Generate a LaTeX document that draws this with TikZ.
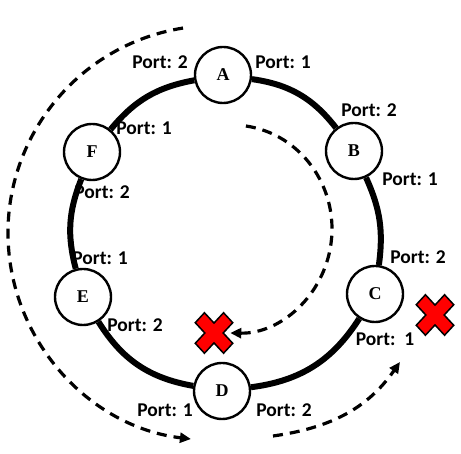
\documentclass[tikz,border=0pt]{standalone}
\usepackage{fontspec}
\newfontfamily\portfont{Carlito}
\newfontfamily\nodefont{Liberation Serif}
\usetikzlibrary{arrows.meta}
\begin{document}
\begin{tikzpicture}[x=1pt,y=1pt,
  station/.style={circle, draw=black, line width=2.4pt, fill=white,
    minimum size=56pt, inner sep=0pt,
    font=\nodefont\bfseries\fontsize{18}{18}\selectfont},
  port/.style={font=\portfont\bfseries\fontsize{19.5}{20}\selectfont, inner sep=0pt},
  ring/.style={line width=6pt},
  flow/.style={line width=3.2pt, dash pattern=on 10pt off 7pt,
    -{Triangle[length=11pt,width=10pt]}},
  redx/.pic={
    \draw[fill=red, line width=1.5pt, line join=miter, yscale=1.08, rotate=45]
      (6.5,6.5) -- (20,6.5) -- (20,-6.5) -- (6.5,-6.5) -- (6.5,-20) -- (-6.5,-20)
      -- (-6.5,-6.5) -- (-20,-6.5) -- (-20,6.5) -- (-6.5,6.5) -- (-6.5,20)
      -- (6.5,20) -- cycle;
  }
]
\useasboundingbox (0,0) rectangle (461,454);

% stations
\node[station] (A) at (223,379) {A};
\node[station] (B) at (354,303) {B};
\node[station] (C) at (375,160) {C};
\node[station] (D) at (222,63) {D};
\node[station] (E) at (83,157) {E};
\node[station] (F) at (92,302) {F};

% ring
\draw[ring] (A) to[bend left=22] (B);
\draw[ring] (B) to[bend left=16] (C);
\draw[ring] (C) to[bend left=25] (D);
\draw[ring] (D) to[bend left=24] (E);
\draw[ring] (E) to[bend left=18] (F);
\draw[ring] (F) to[bend left=20] (A);

% port labels
\node[port] (pA2) at (160,392) {Port: 2};
\node[port] (pA1) at (283,392) {Port: 1};
\node[port] (pB2) at (369,344) {Port: 2};
\node[port] (pB1) at (410,275) {Port: 1};
\node[port] (pC2) at (418,197) {Port: 2};
\node[port] (pC1) at (385,115) {Port:\ \ 1};
\node[port] (pD2) at (284,44) {Port: 2};
\node[port] (pD1) at (165,44) {Port: 1};
\node[port] (pE2) at (135,129) {Port: 2};
\node[port] (pE1) at (100,196) {Port: 1};
\node[port] (pF2) at (102,262) {Port: 2};
\node[port] (pF1) at (144,326) {Port: 1};

% flows
\coordinate (oc) at (215.5,221);
\draw[flow] (oc) ++(99:207.5) arc[start angle=99, end angle=263.2, radius=207.5];
\coordinate (ic) at (232,225);
\draw[flow] (ic) ++(82:100 and 104) arc[start angle=82, end angle=-91, x radius=100, y radius=104];
\coordinate (s3) at (273,18);
\coordinate (e3) at (400,92);
\draw[flow] (s3) to[out=8, in=235] (e3);

% failures
\pic at (214,121) {redx};
\pic at (435,139) {redx};
\end{tikzpicture}
\end{document}
